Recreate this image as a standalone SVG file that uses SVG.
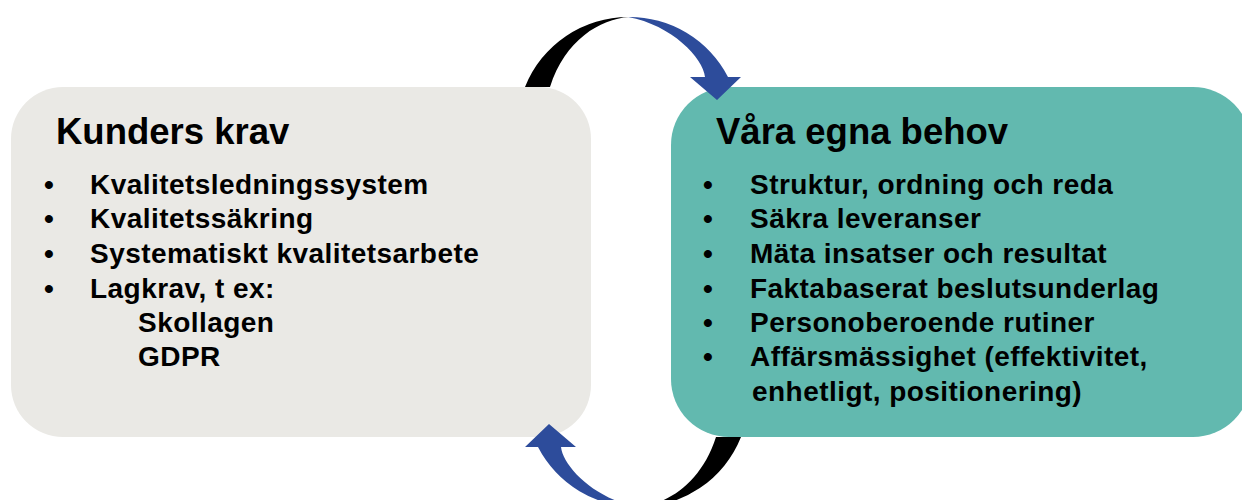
<svg xmlns="http://www.w3.org/2000/svg" width="1242" height="500" viewBox="0 0 1242 500">
<style>
text{font-family:"Liberation Sans",Arial,Helvetica,sans-serif;font-weight:bold;fill:#000}
.t{font-size:36.5px}
.b{font-size:28px;letter-spacing:0.45px}
.blk{fill:#000}
.blu{fill:#2D4C9B}
</style>
<defs>
<g id="arc">
<path class="blk" d="M525,87 A111,111 0 0 1 629,17 C600,19 565,40 550,87 Z"/>
<path class="blu" d="M628,17 A111,111 0 0 1 728,77 L741,77 L717,100 L690,77 L705,77 C703,58 672,25 628,17 Z"/>
</g>
</defs>
<g id="node-kunders-krav">
<rect x="11" y="87" width="580" height="350" rx="52" ry="52" fill="#EAE9E5"/>
<text class="t" x="56" y="144">Kunders krav</text>
<text class="b" x="44" y="194">•</text><text class="b" x="90" y="194">Kvalitetsledningssystem</text>
<text class="b" x="44" y="228">•</text><text class="b" x="90" y="228">Kvalitetssäkring</text>
<text class="b" x="44" y="263">•</text><text class="b" x="90" y="263">Systematiskt kvalitetsarbete</text>
<text class="b" x="44" y="298">•</text><text class="b" x="90" y="298">Lagkrav, t ex:</text>
<text class="b" x="138" y="332">Skollagen</text>
<text class="b" x="138" y="366">GDPR</text>
</g>
<g id="node-vara-egna-behov">
<rect x="671" y="87" width="580" height="350" rx="58" ry="58" fill="#62B9AF"/>
<text class="t" x="716" y="144">Våra egna behov</text>
<text class="b" x="703" y="194">•</text><text class="b" x="750" y="194">Struktur, ordning och reda</text>
<text class="b" x="703" y="228">•</text><text class="b" x="750" y="228">Säkra leveranser</text>
<text class="b" x="703" y="263">•</text><text class="b" x="750" y="263">Mäta insatser och resultat</text>
<text class="b" x="703" y="298">•</text><text class="b" x="750" y="298">Faktabaserat beslutsunderlag</text>
<text class="b" x="703" y="332">•</text><text class="b" x="750" y="332">Personoberoende rutiner</text>
<text class="b" x="703" y="366">•</text><text class="b" x="750" y="366">Affärsmässighet (effektivitet,</text>
<text class="b" x="752" y="401">enhetligt, positionering)</text>
</g>
<g id="connectors">
<use href="#arc"/>
<use href="#arc" transform="rotate(180 633 262)"/>
</g>
</svg>
